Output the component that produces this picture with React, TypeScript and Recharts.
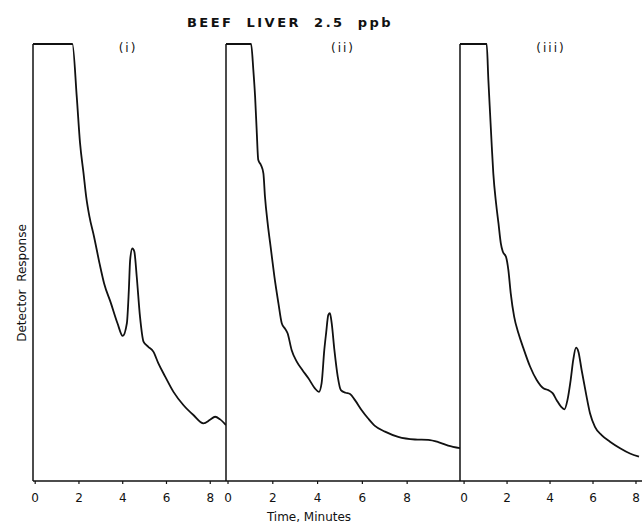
import { LineChart, Line, XAxis, YAxis } from "recharts";

// time (min) and detector response (% of full scale);
// each trace starts pinned at full scale, the rise from baseline sits on the axis
const timeI = [-0.1, 1.7, 1.9, 2.05, 2.21, 2.33, 2.48, 2.69, 2.94, 3.15, 3.46, 3.76, 4.0, 4.19, 4.28, 4.34, 4.44, 4.53, 4.64, 4.79, 4.95, 5.17, 5.4, 5.63, 5.94, 6.32, 6.77, 7.23, 7.69, 7.99, 8.22, 8.45, 8.72];
const respI = [100, 100, 87.9, 77.3, 70.4, 65.1, 60.5, 55.9, 49.8, 45.2, 40.7, 36.1, 33.2, 36.1, 43.7, 50.6, 53.2, 52.5, 46.8, 37.6, 31.9, 30.7, 29.6, 26.9, 23.9, 20.4, 17.4, 15.1, 13.2, 14.0, 14.7, 14.1, 12.8];

const timeII = [-0.09, 1.03, 1.13, 1.21, 1.28, 1.35, 1.47, 1.58, 1.65, 1.77, 1.92, 2.07, 2.25, 2.4, 2.54, 2.66, 2.84, 3.07, 3.32, 3.59, 3.88, 4.06, 4.18, 4.3, 4.38, 4.48, 4.55, 4.63, 4.75, 4.9, 5.04, 5.25, 5.45, 5.67, 5.97, 6.26, 6.56, 7.01, 7.6, 8.35, 8.94, 9.39, 9.83, 10.36];
const respII = [100, 100, 94.1, 87.9, 80.3, 73.5, 72.3, 70.4, 65.1, 59.0, 52.9, 46.8, 40.7, 36.1, 34.9, 33.8, 30.0, 27.3, 25.4, 23.5, 21.2, 20.4, 22.4, 30.0, 33.8, 38.0, 38.4, 36.1, 30.0, 23.9, 20.8, 20.2, 19.9, 18.5, 16.2, 14.3, 12.6, 11.3, 10.1, 9.5, 9.4, 8.9, 8.1, 7.5];

const timeIII = [-0.19, 1.05, 1.13, 1.21, 1.29, 1.36, 1.49, 1.6, 1.71, 1.8, 1.95, 2.06, 2.17, 2.33, 2.53, 2.76, 3.07, 3.38, 3.69, 3.92, 4.12, 4.31, 4.51, 4.67, 4.81, 4.96, 5.08, 5.21, 5.32, 5.47, 5.67, 5.86, 6.09, 6.4, 6.79, 7.26, 7.72, 8.14];
const respIII = [100, 100, 91.8, 84.1, 76.5, 70.4, 63.5, 59.0, 54.4, 52.5, 51.3, 48.3, 43.0, 37.6, 33.8, 30.4, 26.2, 23.1, 21.2, 20.8, 20.1, 18.5, 17.0, 16.4, 18.5, 23.1, 27.7, 30.5, 29.6, 25.4, 20.1, 15.5, 12.4, 10.5, 9.0, 7.5, 6.3, 5.6];

const timeTicks = [0, 2, 4, 6, 8];
const panelLabels = ["(i)", "(ii)", "(iii)"];

const font = "'DejaVu Sans', sans-serif";

const toRows = (t: number[], r: number[]) => t.map((x, i) => ({ t: x, r: r[i] }));

const panels = [
  { rows: toRows(timeI, respI), domain: [-0.1, 8.72], left: 23, width: 213, right: 10 },
  { rows: toRows(timeII, respII), domain: [-0.09, 10.36], left: 216, width: 254, right: 10 },
  { rows: toRows(timeIII, respIII), domain: [-0.19, 8.28], left: 450, width: 192, right: 0 },
];

function Panel({ rows, domain, left, width, right }: any) {
  return (
    <div style={{ position: "absolute", left, top: 34 }}>
      <LineChart width={width} height={477} data={rows} margin={{ top: 10, right, left: 9, bottom: 0 }}>
        <XAxis
          dataKey="t"
          type="number"
          domain={domain}
          allowDataOverflow
          ticks={timeTicks}
          height={30}
          tickSize={3}
          tickMargin={9}
          tick={{ fontSize: 12, fill: "#111", fontFamily: font }}
          axisLine={{ stroke: "#111", strokeWidth: 1.5 }}
          tickLine={{ stroke: "#111", strokeWidth: 1.2 }}
        />
        <YAxis
          type="number"
          domain={[0, 100]}
          width={1}
          tick={false}
          tickLine={false}
          axisLine={{ stroke: "#111", strokeWidth: 1.5 }}
        />
        <Line type="monotone" dataKey="r" stroke="#111" strokeWidth={1.8} dot={false} isAnimationActive={false} />
      </LineChart>
    </div>
  );
}

export default function App() {
  const labelX = [128, 343, 551];
  return (
    <div style={{ position: "absolute", left: 0, top: 0, width: 642, height: 523, overflow: "hidden", background: "#fff", fontFamily: font, color: "#111" }}>
      <div style={{ position: "absolute", left: 0, width: 580, top: 15, textAlign: "center", fontSize: 13, fontWeight: "bold", letterSpacing: 2.5, wordSpacing: 6, lineHeight: "16px" }}>
        BEEF LIVER 2.5 ppb
      </div>
      {panels.map((p, i) => (
        <Panel key={i} {...p} />
      ))}
      {panelLabels.map((l, i) => (
        <div key={l} style={{ position: "absolute", left: labelX[i] - 30, width: 60, top: 40, textAlign: "center", fontSize: 12, letterSpacing: 2, lineHeight: "16px" }}>
          {l}
        </div>
      ))}
      <div style={{ position: "absolute", left: 22 - 70, top: 283 - 8, width: 140, textAlign: "center", fontSize: 12, lineHeight: "16px", transform: "rotate(-90deg)" }}>
        Detector&nbsp; Response
      </div>
      <div style={{ position: "absolute", left: 309 - 70, top: 509, width: 140, textAlign: "center", fontSize: 12, lineHeight: "16px" }}>
        Time, Minutes
      </div>
    </div>
  );
}
